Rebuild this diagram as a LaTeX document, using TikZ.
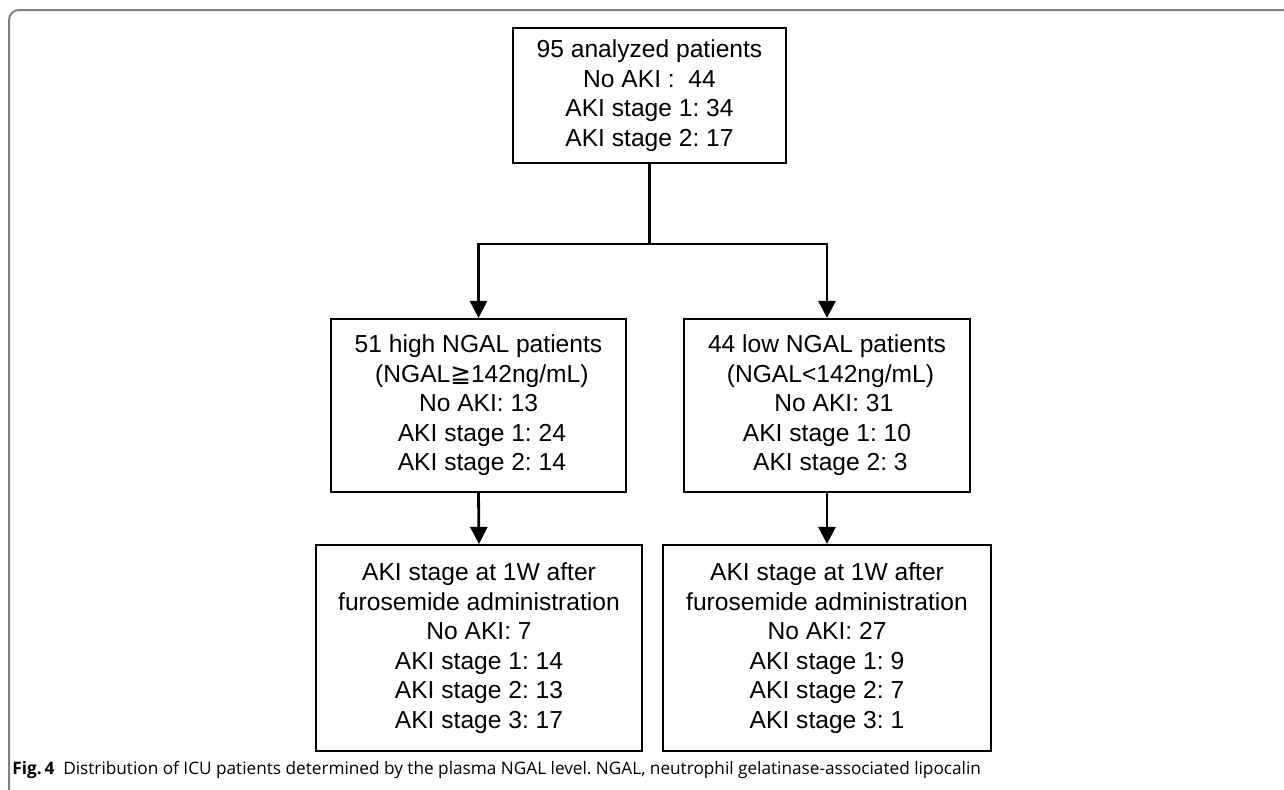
\documentclass[tikz,border=0pt]{standalone}
\usepackage{fontspec}
\setmainfont{Liberation Sans}
\newfontfamily\symfont{DejaVu Sans}
\newfontfamily\capfont{Open Sans}
\usetikzlibrary{arrows.meta}
\frenchspacing
\tikzset{
	box/.style={draw,line width=1.1pt,align=center,inner sep=0pt,
		font=\fontsize{12.3}{14.75}\selectfont},
	arr/.style={line width=1.4pt,-{Triangle[length=8.5pt,width=8.5pt]}},
	frm/.style={draw=black!50,line width=1pt,rounded corners=5pt}
}
\begin{document}
\begin{tikzpicture}[x=.5pt,y=-.5pt]
	\useasboundingbox(0,0)rectangle(1284,789);
	\begin{scope}
		\clip(0,0)rectangle(1284,789);
		\draw[frm](9,800)--(9,10)--(1300,10);
	\end{scope}
	\node[box,minimum width=136.5pt,minimum height=67.5pt](all)at(649.5,95.5)
		{95 analyzed patients\\No AKI :\ \ 44\\AKI stage 1: 34\\AKI stage 2: 17};
	\node[box,minimum width=147.5pt,minimum height=86.5pt](hi)at(478.5,405.5)
		{51 high NGAL patients\\\ ({}NGAL{\symfont ≧}142ng/mL)\\No AKI: 13\\\ AKI stage 1: 24\\\ AKI stage 2: 14};
	\node[box,minimum width=143pt,minimum height=86.5pt](lo)at(827,405.5)
		{44 low NGAL patients\\\ (NGAL<142ng/mL)\\\ \ No AKI: 31\\AKI stage 1: 10\\\ AKI stage 2: 3};
	\node[box,minimum width=163pt,minimum height=103pt](hiw)at(479,648)
		{AKI stage at 1W after\\furosemide administration\\No AKI: 7\\AKI stage 1: 14\\AKI stage 2: 13\\AKI stage 3: 17};
	\node[box,minimum width=164pt,minimum height=103pt](low)at(827,648)
		{AKI stage at 1W after\\furosemide administration\\No AKI: 27\\AKI stage 1: 9\\AKI stage 2: 7\\AKI stage 3: 1};
	\coordinate(split)at(649.5,244);
	\draw[line width=1.4pt](all.south)--(split);
	\draw[arr](split)-|(hi.north);
	\draw[arr](split)-|(lo.north);
	\draw[arr](hi.south)--(hiw.north);
	\draw[arr](lo.south)--(low.north);
	\node[anchor=base west,inner sep=0pt,font=\capfont\fontsize{8.6}{10}\selectfont](cap)at(12,774)
		{\textbf{Fig.\,4}\ \ Distribution of ICU patients determined by the plasma NGAL level. NGAL, neutrophil gelatinase-associated lipocalin};
\end{tikzpicture}
\end{document}
